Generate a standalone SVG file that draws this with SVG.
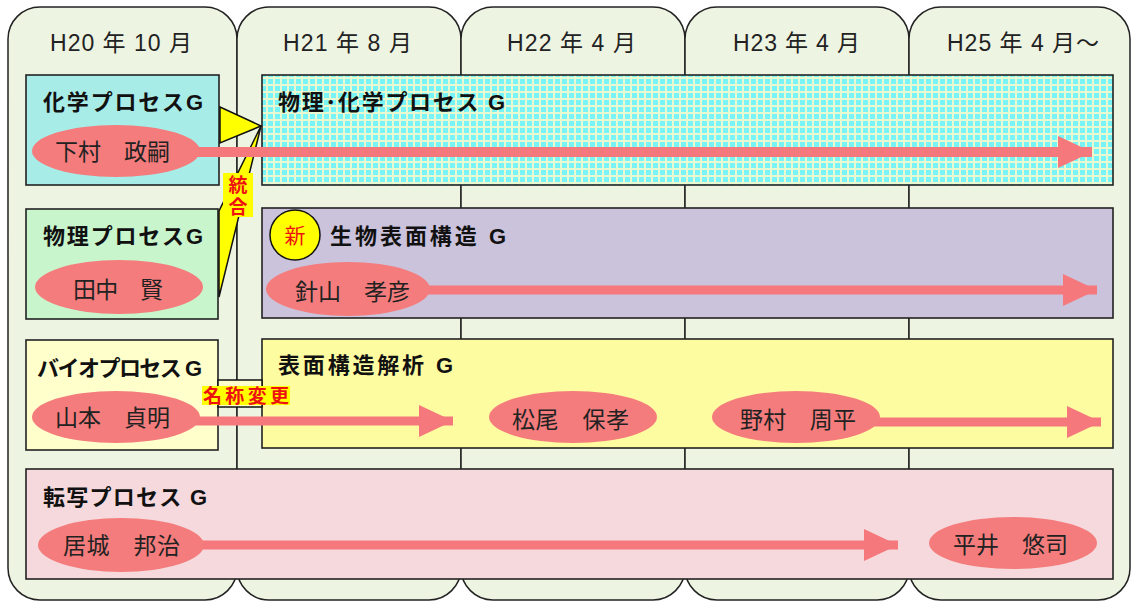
<svg xmlns="http://www.w3.org/2000/svg" width="1132" height="602" viewBox="0 0 1132 602">
<style>
  .col{fill:#eef4e2;stroke:#222;stroke-width:1.5}
  .box{stroke:#222;stroke-width:1.6}
  .hdr{font-family:"Liberation Sans","Noto Sans CJK JP",sans-serif;font-size:23px;fill:#222}
  .ttl{font-family:"Liberation Sans","Noto Sans CJK JP",sans-serif;font-size:22px;font-weight:bold;fill:#111}
  .nm{font-family:"Liberation Sans","Noto Sans CJK JP",sans-serif;font-size:23px;fill:#222}
  .per{fill:#f47c7c}
  .arr{stroke:#f5787c;fill:none}
  .lbl{font-family:"Liberation Sans","Noto Sans CJK JP",sans-serif;font-size:19px;font-weight:bold;fill:#ee1111}
</style>
<defs>
  <pattern id="grid" width="7" height="7" patternUnits="userSpaceOnUse">
    <rect width="7" height="7" fill="#78f4f6"/>
    <path d="M0 1H7M1 0V7" stroke="#e8f9d2" stroke-width="2"/>
  </pattern>
  <marker id="ah" viewBox="0 0 34 32" markerWidth="34" markerHeight="32" refX="34" refY="16" orient="auto" markerUnits="userSpaceOnUse">
    <path d="M0 0L34 16L0 32Z" fill="#f5787c"/>
  </marker>
</defs>
<rect width="1132" height="602" fill="#fff"/>
<g id="columns">
  <rect class="col" x="8" y="7" width="229" height="593" rx="32"/>
  <rect class="col" x="237" y="7" width="224" height="593" rx="32"/>
  <rect class="col" x="461" y="7" width="224" height="593" rx="32"/>
  <rect class="col" x="685" y="7" width="224" height="593" rx="32"/>
  <rect class="col" x="909" y="7" width="221" height="593" rx="32"/>
  <text class="hdr" x="50" y="51" textLength="142" lengthAdjust="spacing">H20 年 10 月</text>
  <text class="hdr" x="283" y="51" textLength="129" lengthAdjust="spacing">H21 年 8 月</text>
  <text class="hdr" x="507" y="51" textLength="129" lengthAdjust="spacing">H22 年 4 月</text>
  <text class="hdr" x="733" y="51" textLength="127" lengthAdjust="spacing">H23 年 4 月</text>
  <text class="hdr" x="947" y="51" textLength="152" lengthAdjust="spacing">H25 年 4 月～</text>
</g>
<g id="chem">
  <rect class="box" x="26" y="75" width="193" height="110" fill="#a8ece8"/>
  <text class="ttl" x="43" y="110" textLength="160" lengthAdjust="spacing">化学プロセスG</text>
</g>
<g id="physchem">
  <rect class="box" x="262" y="75" width="851" height="110" fill="url(#grid)"/>
  <text class="ttl" x="278" y="110" textLength="227" lengthAdjust="spacing">物理･化学プロセス G</text>
</g>
<g id="phys">
  <rect class="box" x="26" y="209" width="192" height="110" fill="#c8f5cc"/>
  <text class="ttl" x="43" y="244" textLength="160" lengthAdjust="spacing">物理プロセスG</text>
</g>
<g id="biosurf">
  <rect class="box" x="262" y="208" width="851" height="110" fill="#cbc3dc"/>
  <text class="ttl" x="330" y="244" textLength="176" lengthAdjust="spacing">生物表面構造 G</text>
</g>
<g id="bio">
  <rect class="box" x="26" y="340" width="192" height="110" fill="#ffffcc"/>
  <text class="ttl" x="37" y="376" textLength="165" lengthAdjust="spacing">バイオプロセス G</text>
</g>
<g id="surfana">
  <rect class="box" x="262" y="339" width="851" height="109" fill="#fefca0"/>
  <text class="ttl" x="278" y="373" textLength="175" lengthAdjust="spacing">表面構造解析 G</text>
</g>
<g id="transfer">
  <rect class="box" x="26" y="469" width="1087" height="110" fill="#f5d9dc"/>
  <text class="ttl" x="43" y="505" textLength="164" lengthAdjust="spacing">転写プロセス G</text>
</g>
<g id="connectors">
  <polygon points="220,107 261,126 220,143" fill="#ffff00" stroke="#111" stroke-width="1.5"/>
  <polygon points="261,126 219,211 219,297" fill="#ffff00" stroke="#111" stroke-width="1.5"/>
  <rect x="218" y="380" width="44" height="27" fill="#ffffcc" stroke="#111" stroke-width="1.5"/>
  <line class="arr" x1="190" y1="152" x2="1092" y2="152" stroke-width="10" marker-end="url(#ah)"/>
  <line class="arr" x1="420" y1="290" x2="1097" y2="290" stroke-width="9" marker-end="url(#ah)"/>
  <line class="arr" x1="190" y1="421" x2="453" y2="421" stroke-width="9" marker-end="url(#ah)"/>
  <line class="arr" x1="870" y1="422" x2="1101" y2="422" stroke-width="9" marker-end="url(#ah)"/>
  <line class="arr" x1="195" y1="545" x2="898" y2="545" stroke-width="9" marker-end="url(#ah)"/>
</g>
<g id="shimomura">
  <ellipse class="per" cx="116" cy="151" rx="84" ry="26"/>
  <text class="nm" x="55" y="160" textLength="115" lengthAdjust="spacing">下村　政嗣</text>
</g>
<g id="tanaka">
  <ellipse class="per" cx="119" cy="287" rx="84" ry="27"/>
  <text class="nm" x="73" y="298" textLength="90" lengthAdjust="spacing">田中　賢</text>
</g>
<g id="hariyama">
  <ellipse class="per" cx="348" cy="289" rx="82" ry="27"/>
  <text class="nm" x="295" y="300" textLength="115" lengthAdjust="spacing">針山　孝彦</text>
</g>
<g id="yamamoto">
  <ellipse class="per" cx="116" cy="417" rx="84" ry="26"/>
  <text class="nm" x="55" y="426" textLength="115" lengthAdjust="spacing">山本　貞明</text>
</g>
<g id="matsuo">
  <ellipse class="per" cx="573" cy="417" rx="84" ry="26"/>
  <text class="nm" x="512" y="428" textLength="117" lengthAdjust="spacing">松尾　保孝</text>
</g>
<g id="nomura">
  <ellipse class="per" cx="796" cy="417" rx="84" ry="26"/>
  <text class="nm" x="740" y="428" textLength="116" lengthAdjust="spacing">野村　周平</text>
</g>
<g id="ishiro">
  <ellipse class="per" cx="121" cy="545" rx="83" ry="27"/>
  <text class="nm" x="63" y="554" textLength="117" lengthAdjust="spacing">居城　邦治</text>
</g>
<g id="hirai">
  <ellipse class="per" cx="1013" cy="543" rx="84" ry="26"/>
  <text class="nm" x="953" y="553" textLength="115" lengthAdjust="spacing">平井　悠司</text>
</g>
<g id="new-badge">
  <circle cx="295" cy="235" r="25" fill="#ffff00" stroke="#111" stroke-width="1.5"/>
  <text class="lbl" x="295" y="243" text-anchor="middle" style="font-size:21px;font-weight:normal">新</text>
</g>
<g id="label-integrate">
  <rect x="223" y="173" width="30" height="44" fill="#ffff00"/>
  <text class="lbl" x="238" y="192" text-anchor="middle">統</text>
  <text class="lbl" x="238" y="214" text-anchor="middle">合</text>
</g>
<g id="label-rename">
  <rect x="202" y="386" width="88" height="19" fill="#ffff00"/>
  <text class="lbl" x="203" y="403" textLength="86" lengthAdjust="spacing">名称変更</text>
</g>
</svg>
